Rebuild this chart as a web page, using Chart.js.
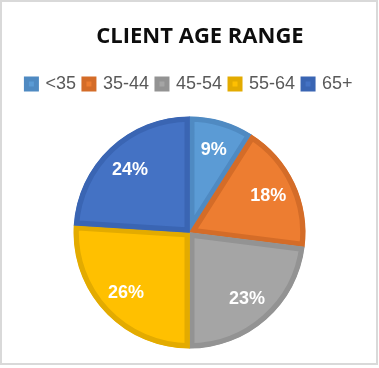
<!DOCTYPE html>
<html>
<head>
<meta charset="utf-8">
<script src="https://cdn.jsdelivr.net/npm/chart.js@4/dist/chart.umd.min.js"></script>
<style>
  html, body { margin: 0; padding: 0; background: #ffffff; }
  #wrap { position: absolute; left: 0; top: 0; width: 379px; height: 368px; }
  #frame { position: absolute; left: 0; top: 0; width: 378px; height: 365px; box-sizing: border-box; border: 2px solid #d9d9d9; pointer-events: none; }
</style>
</head>
<body>
<div id="wrap"><canvas id="c" width="379" height="368"></canvas></div>
<div id="frame"></div>
<script>
const titleText = "CLIENT AGE RANGE";
const categories = ["<35", "35-44", "45-54", "55-64", "65+"];
const values = [9, 18, 23, 26, 24];
const fillColors = ["#5B9BD5", "#ED7D31", "#A5A5A5", "#FFC000", "#4472C4"];
const borderColors = ["#4F8AC2", "#D46C28", "#939393", "#E3AB00", "#3A65B3"];

const chartTitle = {
  id: "chartTitle",
  afterDraw(chart) {
    const ctx = chart.ctx;
    ctx.save();
    ctx.fillStyle = "#0d0d0d";
    ctx.font = "bold 22px 'Open Sans', sans-serif";
    ctx.textAlign = "center";
    ctx.textBaseline = "alphabetic";
    ctx.fillText(titleText, 200, 43);
    ctx.restore();
  }
};

const pctLabels = {
  id: "pctLabels",
  afterDatasetsDraw(chart) {
    const ctx = chart.ctx;
    const meta = chart.getDatasetMeta(0);
    const data = chart.data.datasets[0].data;
    const total = data.reduce((a, b) => a + b, 0);
    ctx.save();
    ctx.fillStyle = "#ffffff";
    ctx.font = "bold 18px 'Liberation Sans', Arial, sans-serif";
    ctx.textAlign = "center";
    ctx.textBaseline = "middle";
    meta.data.forEach((arc, i) => {
      const p = arc.getProps(["x", "y", "startAngle", "endAngle", "outerRadius"], true);
      const mid = (p.startAngle + p.endAngle) / 2;
      const r = p.outerRadius * 0.75;
      const x = p.x + Math.cos(mid) * r;
      const y = p.y + Math.sin(mid) * r;
      ctx.fillText(Math.round(data[i] / total * 100) + "%", x, y + 1);
    });
    ctx.restore();
  }
};

new Chart(document.getElementById("c"), {
  type: "pie",
  data: {
    labels: categories,
    datasets: [{
      data: values,
      backgroundColor: fillColors,
      borderColor: borderColors,
      borderWidth: 5,
      borderAlign: "inner",
      borderJoinStyle: "miter",
      radius: 116
    }]
  },
  options: {
    responsive: false,
    animation: false,
    devicePixelRatio: 1,
    layout: { padding: { top: 67, bottom: 6, left: 0, right: 0 } },
    plugins: {
      title: { display: false },
      legend: {
        display: true,
        position: "top",
        labels: {
          color: "#595959",
          font: { family: "'Liberation Sans', Arial, sans-serif", size: 18 },
          boxWidth: 10,
          boxHeight: 10,
          padding: 8
        }
      },
      tooltip: { enabled: false }
    }
  },
  plugins: [pctLabels, chartTitle]
});
</script>
</body>
</html>
